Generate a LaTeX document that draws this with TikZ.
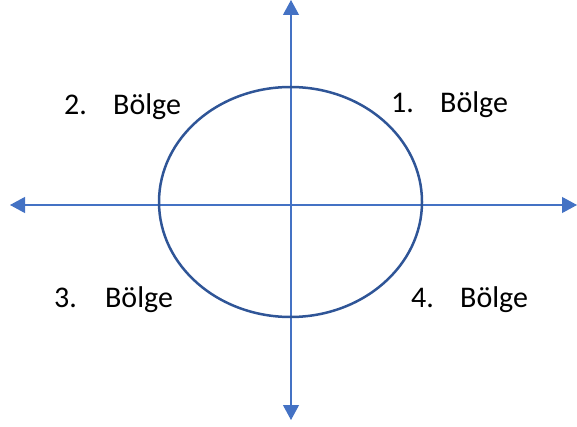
\documentclass[tikz,border=0pt]{standalone}
\usepackage{fontspec}
\setmainfont{Carlito}
\usetikzlibrary{arrows.meta}
\definecolor{axisblue}{HTML}{4472C4}
\definecolor{ellblue}{HTML}{2F5597}
\begin{document}
\begin{tikzpicture}[x=1pt,y=-1pt,
  axis/.style={draw=axisblue,line width=1.1pt,-{Triangle[length=15pt,width=16pt]}},
  lbl/.style={anchor=base west,inner sep=0pt,font=\fontsize{30}{36}\selectfont}]
\useasboundingbox (0,0) rectangle (577,427);
\coordinate (L) at (10,205);
\coordinate (R) at (577,205);
\coordinate (T) at (291,0);
\coordinate (B) at (291,420);
\coordinate (O) at (291,205);
\draw[axis] (O) -- (L);
\draw[axis] (O) -- (R);
\draw[axis] (O) -- (T);
\draw[axis] (O) -- (B);
\draw[ellblue,line width=2.5pt] (290.5,202) ellipse [x radius=131.5pt,y radius=115pt];
\node[lbl] (q1) at (391,113) {\makebox[49pt][l]{1.}Bölge};
\node[lbl] (q2) at (64,115) {\makebox[49pt][l]{2.}Bölge};
\node[lbl] (q3) at (54,307) {\makebox[51pt][l]{3.}Bölge};
\node[lbl] (q4) at (411,307) {\makebox[49pt][l]{4.}Bölge};
\end{tikzpicture}
\end{document}
